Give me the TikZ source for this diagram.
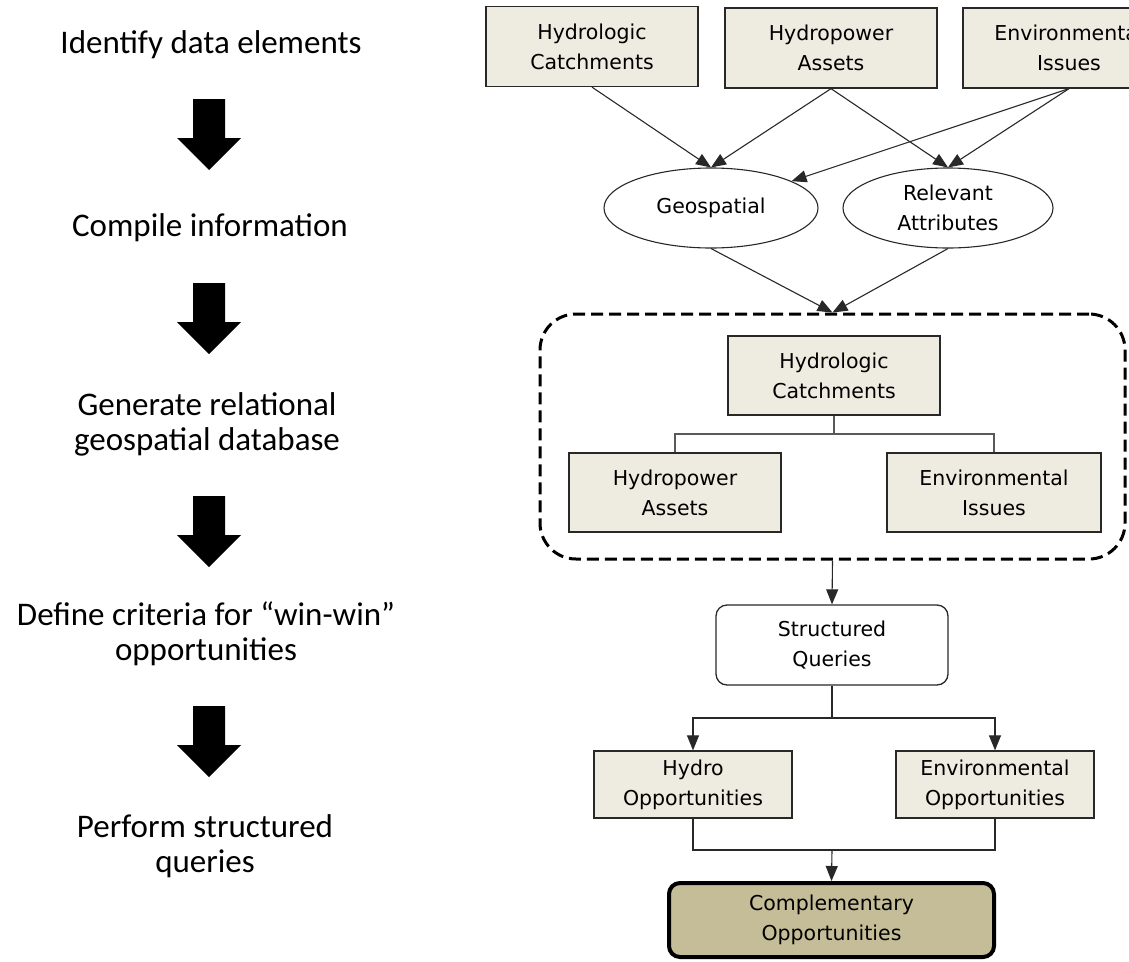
\documentclass[tikz,border=0pt]{standalone}
\usepackage{fontspec}
\setmainfont{Carlito}
\newfontfamily\boxfont{DejaVu Sans}
\usetikzlibrary{arrows.meta,shapes.geometric}
\definecolor{boxfill}{RGB}{238,236,225}
\definecolor{compfill}{RGB}{196,189,151}
\definecolor{edge}{RGB}{40,40,40}
\newcommand{\blkarrow}[1]{\fill[black,shift={(0,#1)}] (209,71) -- (177,39) -- (193,39) -- (193,0) -- (225,0) -- (225,39) -- (241,39) -- cycle;}
\begin{document}
\begin{tikzpicture}[x=1pt,y=-1pt,
  lbl/.style={font=\fontsize{33}{35}\selectfont, align=center, inner sep=0pt},
  ebox/.style={draw=edge, line width=1.3pt, fill=boxfill, font=\boxfont\fontsize{20.5}{30}\selectfont, align=center, minimum width=212pt, minimum height=80pt, inner sep=0pt},
  ell/.style={ellipse, draw=edge, line width=1.1pt, fill=white, font=\boxfont\fontsize{20.5}{30}\selectfont, align=center, minimum width=214pt, minimum height=80pt, inner sep=0pt},
  rbox/.style={draw=edge, line width=1.3pt, fill=white, rounded corners=11pt, font=\boxfont\fontsize{20.5}{30}\selectfont, align=center, inner sep=0pt},
  dbox/.style={draw=black, line width=3pt, dash pattern=on 12pt off 6pt, rounded corners=36pt, minimum width=585pt, minimum height=245pt, inner sep=0pt},
  arr/.style={draw=edge, line width=1.1pt, -{Triangle[length=15pt,width=12pt]}},
  plain/.style={draw=edge, line width=1.1pt},
  conn/.style={draw=black!65, line width=1.6pt}
]
\useasboundingbox (0,0) rectangle (1129,961);
\clip (0,0) rectangle (1129,961);

% left column
\node[lbl] (t1) at (211,45) {Identify data elements};
\node[lbl] (t2) at (210,228) {Compile information};
\node[lbl] (t3) at (207,424) {Generate relational\\geospatial database};
\node[lbl] (t4) at (206,634) {Define criteria for “win-win”\\opportunities};
\node[lbl] (t5) at (205,846) {Perform structured\\queries};
\blkarrow{99}
\blkarrow{283}
\blkarrow{496}
\blkarrow{706}

% top boxes
\node[ebox] (b1) at (592,46.5) {Hydrologic\\Catchments};
\node[ebox] (b2) at (831,48) {Hydropower\\Assets};
\node[ebox] (b3) at (1069,48) {Environmental\\Issues};

% ellipses
\node[ell] (geo) at (711,208) {Geospatial};
\node[ell, minimum width=210pt] (rel) at (948,208) {Relevant\\Attributes};

\draw[arr] (b1.south) -- (geo.north);
\draw[arr] (b2.south) -- (geo.north);
\draw[arr] (b2.south) -- (rel.north);
\draw[arr] (b3.south) -- (rel.north);
\draw[arr] (b3.south) -- (geo);

% dashed database box
\node[dbox] (db) at (832.5,436.5) {};
\draw[arr] (geo.south) -- (db.north);
\draw[arr] (rel.south) -- (db.north);

\node[ebox, minimum height=79pt] (hc) at (834,375.5) {Hydrologic\\Catchments};
\node[ebox, minimum height=79pt] (ha) at (675,492.5) {Hydropower\\Assets};
\node[ebox, minimum height=79pt, minimum width=214pt] (ei) at (994,492.5) {Environmental\\Issues};
\coordinate (j1) at (834,434);
\draw[conn] (hc.south) -- (j1);
\draw[conn] (j1) -| (ha.north);
\draw[conn] (j1) -| (ei.north);

% queries
\node[rbox, minimum width=232pt, minimum height=80pt] (sq) at (832,645) {Structured\\Queries};
\draw[arr] (db.south) -- (sq.north);

\node[ebox, minimum width=198pt, minimum height=67pt] (ho) at (693,784.5) {Hydro\\Opportunities};
\node[ebox, minimum width=198pt, minimum height=67pt] (eo) at (995,784.5) {Environmental\\Opportunities};
\coordinate (j2) at (832,718);
\draw[plain] (sq.south) -- (j2);
\draw[arr] (j2) -| (ho.north);
\draw[arr] (j2) -| (eo.north);

\node[draw=black, line width=4pt, fill=compfill, rounded corners=11pt, font=\boxfont\fontsize{20.5}{30}\selectfont, align=center, inner sep=0pt, minimum width=325pt, minimum height=74pt] (cp) at (831.5,920) {Complementary\\Opportunities};
\coordinate (j3) at (832,850);
\draw[plain] (ho.south) |- (j3);
\draw[plain] (eo.south) |- (j3);
\draw[arr] (j3) -- (cp.north);
\end{tikzpicture}
\end{document}
